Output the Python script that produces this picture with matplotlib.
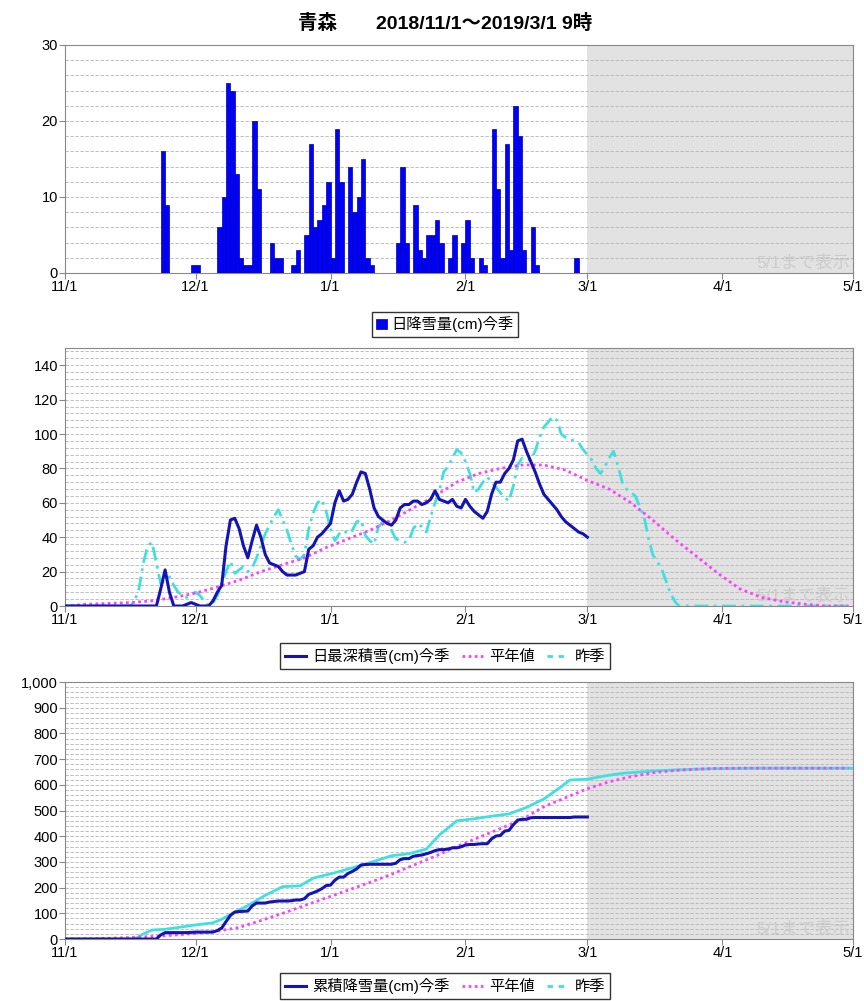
import numpy as np
import matplotlib
matplotlib.use('Agg')
import matplotlib.pyplot as plt
from matplotlib.ticker import MultipleLocator, FuncFormatter
from matplotlib.lines import Line2D

plt.rcParams['font.family'] = ['Liberation Sans', 'Noto Sans CJK JP', 'DejaVu Sans']

# x axis: days since 11/1 (11/1 .. 5/1)
month_pos = [0, 30, 61, 92, 120, 151, 181]
month_labels = ['11/1', '12/1', '1/1', '2/1', '3/1', '4/1', '5/1']

# daily snowfall this season (cm), 11/1 .. 3/1
snow_daily = [
    0, 0, 0, 0, 0, 0, 0, 0, 0, 0,
    0, 0, 0, 0, 0, 0, 0, 0, 0, 0,
    0, 0, 16, 9, 0, 0, 0, 0, 0, 1,
    1, 0, 0, 0, 0, 6, 10, 25, 24, 13,
    2, 1, 1, 20, 11, 0, 0, 4, 2, 2,
    0, 0, 1, 3, 0, 5, 17, 6, 7, 9,
    12, 2, 19, 12, 0, 14, 8, 10, 15, 2,
    1, 0, 0, 0, 0, 0, 4, 14, 4, 0,
    9, 3, 2, 5, 5, 7, 4, 0, 2, 5,
    0, 4, 7, 2, 0, 2, 1, 0, 19, 11,
    2, 17, 3, 22, 18, 3, 0, 6, 1, 0,
    0, 0, 0, 0, 0, 0, 0, 2, 0, 0,
    0]

# daily max snow depth this season (cm)
depth_now = [
    0, 0, 0, 0, 0, 0, 0, 0, 0, 0,
    0, 0, 0, 0, 0, 0, 0, 0, 0, 0,
    0, 0, 10, 21, 8, 0, 0, 0, 1, 2,
    1, 0, 0, 0, 3, 8, 12, 35, 50, 51,
    45, 35, 28, 38, 47, 40, 30, 25, 24, 23,
    20, 18, 18, 18, 19, 20, 33, 35, 40, 42,
    45, 48, 60, 67, 61, 62, 65, 72, 78, 77,
    68, 57, 52, 50, 48, 47, 50, 57, 59, 59,
    61, 61, 59, 60, 62, 67, 62, 61, 60, 62,
    58, 57, 62, 58, 55, 53, 51, 55, 65, 72,
    72, 77, 80, 85, 96, 97, 90, 84, 78, 71,
    65, 62, 59, 56, 52, 49, 47, 45, 43, 42,
    40]

# last season snow depth (cm), 11/1 .. 5/1
depth_last = [
    0, 0, 0, 0, 0, 0, 0, 0, 0, 0,
    0, 0, 0, 0, 0, 0, 3, 10, 25, 35,
    37, 25, 13, 15, 17, 12, 8, 6, 5, 7,
    8, 6, 3, 0, 2, 6, 13, 20, 26, 19,
    21, 23, 20, 22, 28, 35, 42, 47, 52, 56,
    50, 44, 36, 29, 27, 30, 45, 54, 60, 62,
    55, 45, 38, 42, 44, 42, 44, 49, 50, 41,
    38, 36, 46, 49, 50, 44, 39, 38, 37, 38,
    45, 48, 46, 43, 52, 60, 67, 78, 81, 86,
    91, 89, 84, 77, 66, 68, 72, 75, 72, 69,
    66, 63, 61, 70, 82, 86, 85, 85, 90, 98,
    104, 107, 110, 108, 100, 98, 97, 96, 95, 91,
    88, 85, 80, 77, 81, 86, 90, 82, 72, 68,
    66, 64, 58, 52, 40, 30, 26, 22, 15, 8,
    3, 0, 0, 0, 0, 0, 0, 0, 0, 0,
    0, 0, 0, 0, 0, 0, 0, 0, 0, 0,
    0, 0, 0, 0, 0, 0, 0, 0, 0, 0,
    0, 0, 0, 0, 0, 0, 0, 0, 0, 0,
    0]

# normal values, every 5 days
normal_days = list(range(0, 181, 5))
depth_normal = [0, 1, 1.5, 2, 3, 5, 7.5, 11, 15, 20,
                24, 28, 34, 39, 44, 50, 57, 64, 72, 77,
                80, 82, 82, 79, 73, 68, 60, 50, 39, 29,
                19, 10, 5, 2.5, 1, 0, 0]
cum_normal = [0, 1, 3, 6, 10, 15, 22, 31, 45, 72,
              100, 130, 160, 190, 220, 252, 287, 322, 360, 395,
              430, 465, 515, 550, 585, 612, 632, 647, 656, 661,
              664, 665, 665, 665, 665, 665, 665]

# last season cumulative snowfall (cm)
cum_last_days = [0, 16, 18, 20, 23, 26, 30, 34, 36, 39, 42, 46, 50, 54, 57, 62, 66, 70,
                 75, 79, 83, 86, 90, 94, 98, 102, 106, 110, 114, 116, 120, 124, 128,
                 132, 136, 140, 145, 150, 155, 160, 181]
cum_last = [0, 0, 20, 35, 38, 45, 55, 63, 77, 105, 130, 170, 204, 207, 237, 258, 277, 297,
            324, 332, 350, 405, 460, 468, 478, 487, 512, 545, 593, 619, 622, 635, 645,
            650, 655, 658, 661, 663, 664, 665, 665]

c_now = '#1414b4'
c_norm = '#ff40ff'
c_last = '#40e0e0'
grid_c = '#b4b4b4'

fig = plt.figure(figsize=(8.64, 10.01), dpi=100)
ax1 = fig.add_axes([0.0752, 0.7273, 0.912, 0.2278])
ax2 = fig.add_axes([0.0752, 0.3946, 0.912, 0.2577])
ax3 = fig.add_axes([0.0752, 0.0619, 0.912, 0.2567])


def style(ax, ymax, major, minor):
    ax.set_xlim(0, 181)
    ax.set_ylim(0, ymax)
    ax.axvspan(120, 181, color='#e2e2e2', lw=0, zorder=0)
    ax.set_xticks(month_pos)
    ax.set_xticklabels(month_labels)
    ax.yaxis.set_major_locator(MultipleLocator(major))
    ax.yaxis.set_minor_locator(MultipleLocator(minor))
    ax.grid(axis='y', which='both', linestyle=(0, (4, 2)), color=grid_c, lw=0.6, zorder=1)
    ax.set_axisbelow(True)
    for s in ax.spines.values():
        s.set_color('#888888')
    ax.tick_params(which='major', labelsize=10.5, length=4, color='#888888', pad=1)
    ax.tick_params(which='minor', length=0)
    ax.text(0.997, 0.01, '5/1まで表示', transform=ax.transAxes, ha='right', va='bottom',
            color='#cccccc', fontsize=12.5, zorder=2)


# top: daily snowfall
style(ax1, 30, 10, 2)
days = np.arange(len(snow_daily))
vals = np.array(snow_daily)
mask = vals > 0
ax1.bar(days[mask], vals[mask], width=1, align='edge', color='#0000ff',
        edgecolor='#0000a0', lw=0.5, zorder=3, label='日降雪量(cm)今季')
fig.legend(loc='center', bbox_to_anchor=(0.515, 0.676), fontsize=11, frameon=True,
           fancybox=False, edgecolor='black', handlelength=0.7, handleheight=0.7,
           handletextpad=0.3, borderpad=0.3).get_frame().set_linewidth(1)

# middle: snow depth
style(ax2, 150, 20, 4)
ax2.plot(np.arange(len(depth_now)), depth_now, color=c_now, lw=2.2, zorder=5)
ax2.plot(normal_days, depth_normal, color=c_norm, lw=2, linestyle=(0, (1, 1.2)), zorder=4)
ax2.plot(np.arange(len(depth_last)), depth_last, color=c_last, lw=2,
         linestyle=(0, (5, 2, 1, 2)), zorder=3)

h_now = Line2D([], [], color=c_now, lw=2.2)
h_norm = Line2D([], [], color=c_norm, lw=2, linestyle=(0, (1, 1.2)))
h_last = Line2D([], [], color=c_last, lw=2, linestyle=(0, (2, 2)))
leg_kw = dict(loc='center', ncol=3, fontsize=11, frameon=True, fancybox=False,
              edgecolor='black', handlelength=1.4, handletextpad=0.4, columnspacing=0.8,
              borderpad=0.3)
fig.legend([h_now, h_norm, h_last], ['日最深積雪(cm)今季', '平年値', '昨季'],
           bbox_to_anchor=(0.515, 0.3447), **leg_kw).get_frame().set_linewidth(1)

# bottom: cumulative snowfall
style(ax3, 1000, 100, 20)
ax3.yaxis.set_major_formatter(FuncFormatter(lambda v, p: f'{int(v):,}'))
ax3.plot(np.arange(len(snow_daily)), np.cumsum(snow_daily), color=c_now, lw=2.2, zorder=5)
ax3.plot(normal_days, cum_normal, color=c_norm, lw=2, linestyle=(0, (1, 1.2)), zorder=4)
ax3.plot(cum_last_days, cum_last, color=c_last, lw=2, zorder=3)
fig.legend([h_now, h_norm, h_last], ['累積降雪量(cm)今季', '平年値', '昨季'],
           bbox_to_anchor=(0.515, 0.015), **leg_kw).get_frame().set_linewidth(1)

fig.text(0.515, 0.977, '青森　　2018/11/1～2019/3/1 9時', ha='center', va='center',
         fontsize=14, fontweight='bold')

fig.savefig('out.png', dpi=100)
